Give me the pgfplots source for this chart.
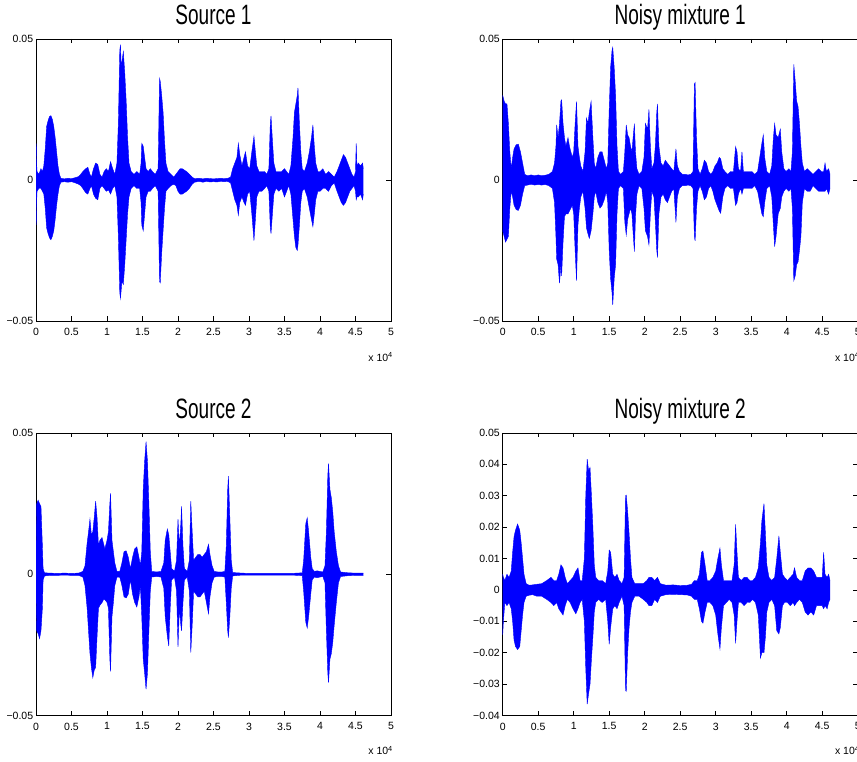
\documentclass[border=0pt]{standalone}
\usepackage{pgfplots}
\pgfplotsset{compat=1.18}
\usepackage{pgfplotstable}
\usepgfplotslibrary{fillbetween}
\usepackage{fontspec}
\setmainfont{Liberation Sans}
\newfontfamily\titlefont{Liberation Sans}[FakeStretch=0.68]

\pgfplotstableread{
x hi lo
0.000 0.013 -0.016
0.004 0.012 -0.015
0.008 0.006 -0.008
0.015 0.003 -0.004
0.04 0.002 -0.003
0.07 0.004 -0.003
0.09 0.003 -0.004
0.11 0.005 -0.005
0.13 0.011 -0.010
0.15 0.019 -0.017
0.17 0.021 -0.019
0.19 0.0225 -0.0205
0.21 0.0228 -0.0212
0.23 0.0215 -0.020
0.25 0.019 -0.018
0.27 0.015 -0.014
0.29 0.010 -0.009
0.31 0.005 -0.005
0.33 0.002 -0.002
0.35 0.0006 -0.0008
0.40 0.0004 -0.0006
0.45 0.0006 -0.0008
0.50 0.0005 -0.0006
0.55 0.0008 -0.0010
0.60 0.0012 -0.0015
0.63 0.002 -0.002
0.66 0.003 -0.003
0.70 0.004 -0.0045
0.73 0.0045 -0.0050
0.76 0.002 -0.003
0.78 0.001 -0.002
0.81 0.004 -0.005
0.84 0.006 -0.0065
0.87 0.0055 -0.007
0.90 0.002 -0.003
0.93 0.001 -0.002
0.96 0.003 -0.003
0.99 0.004 -0.004
1.02 0.003 -0.0035
1.05 0.0065 -0.005
1.08 0.004 -0.003
1.11 0.002 -0.002
1.14 0.006 -0.006
1.16 0.020 -0.020
1.18 0.046 -0.040
1.19 0.048 -0.042
1.20 0.040 -0.039
1.21 0.042 -0.036
1.23 0.0455 -0.037
1.25 0.038 -0.030
1.27 0.028 -0.021
1.29 0.015 -0.012
1.31 0.006 -0.006
1.34 0.003 -0.003
1.38 0.002 -0.002
1.42 0.003 -0.003
1.46 0.002 -0.003
1.48 0.006 -0.008
1.49 0.013 -0.016
1.51 0.012 -0.018
1.53 0.008 -0.012
1.55 0.004 -0.006
1.58 0.003 -0.004
1.61 0.004 -0.004
1.64 0.003 -0.003
1.68 0.002 -0.002
1.72 0.004 -0.004
1.74 0.036 -0.036
1.75 0.035 -0.0365
1.77 0.030 -0.026
1.79 0.024 -0.018
1.81 0.014 -0.010
1.83 0.006 -0.004
1.86 0.003 -0.003
1.90 0.002 -0.002
1.94 0.001 -0.0015
1.97 0.002 -0.002
2.00 0.003 -0.004
2.03 0.004 -0.005
2.06 0.004 -0.005
2.09 0.0035 -0.0045
2.12 0.003 -0.004
2.16 0.002 -0.003
2.20 0.001 -0.0015
2.23 0.0005 -0.0008
2.30 0.0006 -0.0005
2.35 0.0004 -0.0008
2.40 0.0006 -0.0005
2.45 0.0005 -0.0007
2.50 0.0004 -0.0006
2.55 0.0005 -0.0007
2.60 0.0006 -0.0005
2.65 0.0005 -0.0006
2.70 0.0006 -0.0005
2.74 0.001 -0.001
2.77 0.004 -0.004
2.80 0.006 -0.007
2.83 0.008 -0.009
2.85 0.013 -0.0125
2.87 0.009 -0.008
2.90 0.005 -0.006
2.93 0.008 -0.008
2.95 0.010 -0.009
2.98 0.005 -0.005
3.01 0.004 -0.004
3.04 0.010 -0.012
3.07 0.0155 -0.0215
3.09 0.010 -0.014
3.11 0.005 -0.006
3.14 0.003 -0.004
3.18 0.003 -0.004
3.22 0.003 -0.003
3.25 0.002 -0.002
3.28 0.004 -0.004
3.30 0.020 -0.017
3.31 0.0227 -0.019
3.33 0.014 -0.012
3.35 0.006 -0.005
3.38 0.003 -0.003
3.42 0.003 -0.004
3.46 0.003 -0.003
3.50 0.004 -0.006
3.53 0.003 -0.004
3.56 0.002 -0.002
3.59 0.005 -0.005
3.62 0.015 -0.014
3.64 0.024 -0.020
3.66 0.027 -0.024
3.68 0.030 -0.025
3.69 0.0327 -0.023
3.71 0.020 -0.016
3.73 0.010 -0.008
3.75 0.004 -0.004
3.78 0.003 -0.003
3.82 0.006 -0.006
3.85 0.010 -0.010
3.88 0.015 -0.014
3.90 0.0195 -0.0165
3.92 0.012 -0.012
3.94 0.006 -0.007
3.97 0.003 -0.004
4.00 0.003 -0.004
4.04 0.004 -0.003
4.08 0.002 -0.003
4.12 0.003 -0.004
4.16 0.002 -0.002
4.20 0.001 -0.001
4.24 0.003 -0.004
4.27 0.005 -0.006
4.30 0.007 -0.008
4.33 0.009 -0.009
4.36 0.008 -0.008
4.39 0.006 -0.006
4.42 0.004 -0.004
4.45 0.002 -0.003
4.48 0.001 -0.002
4.50 0.003 -0.004
4.51 0.013 -0.007
4.52 0.005 -0.006
4.54 0.006 -0.006
4.57 0.005 -0.005
4.60 0.006 -0.007
4.61 0.004 -0.005
}\dataA

\pgfplotstableread{
x hi lo
0.000 0.030 -0.018
0.02 0.028 -0.020
0.04 0.027 -0.022
0.06 0.027 -0.021
0.08 0.020 -0.020
0.10 0.010 -0.010
0.12 0.004 -0.004
0.14 0.008 -0.006
0.16 0.011 -0.009
0.19 0.0125 -0.0105
0.22 0.0127 -0.0108
0.25 0.010 -0.009
0.28 0.006 -0.005
0.31 0.002 -0.002
0.35 0.0015 -0.0018
0.40 0.0018 -0.0015
0.45 0.0015 -0.0018
0.50 0.0018 -0.0016
0.55 0.0015 -0.0018
0.60 0.0017 -0.0016
0.65 0.002 -0.002
0.70 0.003 -0.003
0.73 0.006 -0.008
0.75 0.012 -0.020
0.76 0.0195 -0.028
0.78 0.015 -0.030
0.80 0.020 -0.0366
0.82 0.028 -0.030
0.83 0.0284 -0.034
0.85 0.020 -0.022
0.87 0.015 -0.013
0.89 0.012 -0.012
0.92 0.015 -0.012
0.94 0.012 -0.011
0.96 0.010 -0.010
0.98 0.008 -0.009
1.00 0.010 -0.012
1.02 0.020 -0.025
1.04 0.0278 -0.0357
1.06 0.012 -0.016
1.08 0.008 -0.010
1.10 0.005 -0.006
1.13 0.003 -0.004
1.16 0.010 -0.010
1.18 0.022 -0.017
1.20 0.020 -0.019
1.22 0.024 -0.0207
1.245 0.0278 -0.018
1.27 0.015 -0.012
1.29 0.006 -0.006
1.31 0.004 -0.004
1.34 0.008 -0.008
1.37 0.010 -0.010
1.40 0.010 -0.009
1.43 0.007 -0.007
1.46 0.004 -0.004
1.48 0.006 -0.008
1.50 0.025 -0.025
1.52 0.040 -0.035
1.54 0.046 -0.040
1.55 0.047 -0.0443
1.57 0.040 -0.035
1.59 0.030 -0.030
1.61 0.012 -0.012
1.63 0.003 -0.003
1.66 0.002 -0.002
1.70 0.003 -0.003
1.72 0.010 -0.015
1.74 0.0195 -0.0195
1.76 0.016 -0.014
1.78 0.015 -0.012
1.80 0.012 -0.010
1.82 0.010 -0.012
1.84 0.016 -0.020
1.855 0.020 -0.0254
1.87 0.010 -0.013
1.89 0.004 -0.005
1.92 0.002 -0.002
1.96 0.003 -0.003
1.99 0.008 -0.010
2.01 0.020 -0.018
2.04 0.018 -0.020
2.06 0.025 -0.023
2.08 0.012 -0.012
2.10 0.004 -0.004
2.13 0.006 -0.006
2.15 0.012 -0.015
2.17 0.024 -0.025
2.18 0.027 -0.0275
2.20 0.012 -0.012
2.23 0.006 -0.006
2.26 0.005 -0.005
2.29 0.007 -0.007
2.32 0.006 -0.008
2.35 0.005 -0.006
2.38 0.004 -0.004
2.41 0.003 -0.003
2.44 0.011 -0.015
2.46 0.005 -0.006
2.49 0.003 -0.003
2.53 0.002 -0.002
2.57 0.002 -0.002
2.61 0.0018 -0.0018
2.65 0.002 -0.002
2.68 0.003 -0.003
2.70 0.034 -0.020
2.71 0.0345 -0.0216
2.73 0.015 -0.010
2.75 0.004 -0.004
2.78 0.002 -0.002
2.81 0.004 -0.004
2.84 0.007 -0.007
2.87 0.006 -0.006
2.90 0.003 -0.003
2.93 0.002 -0.002
2.96 0.003 -0.004
2.99 0.005 -0.007
3.02 0.006 -0.009
3.05 0.008 -0.011
3.07 0.0075 -0.0118
3.10 0.004 -0.006
3.13 0.003 -0.003
3.17 0.002 -0.002
3.21 0.003 -0.003
3.25 0.003 -0.003
3.28 0.0118 -0.009
3.30 0.010 -0.008
3.32 0.004 -0.005
3.35 0.003 -0.003
3.37 0.010 -0.005
3.39 0.003 -0.003
3.43 0.003 -0.003
3.47 0.003 -0.003
3.51 0.003 -0.003
3.55 0.002 -0.002
3.59 0.003 -0.004
3.62 0.008 -0.008
3.65 0.013 -0.012
3.67 0.016 -0.013
3.69 0.008 -0.008
3.72 0.003 -0.003
3.76 0.002 -0.002
3.79 0.005 -0.006
3.81 0.014 -0.015
3.83 0.020 -0.0236
3.85 0.016 -0.020
3.88 0.015 -0.012
3.91 0.018 -0.010
3.93 0.010 -0.006
3.96 0.004 -0.004
3.99 0.003 -0.003
4.03 0.004 -0.004
4.06 0.003 -0.003
4.08 0.010 -0.010
4.10 0.041 -0.0357
4.12 0.035 -0.034
4.14 0.028 -0.030
4.16 0.026 -0.029
4.18 0.020 -0.025
4.20 0.012 -0.020
4.22 0.006 -0.008
4.25 0.003 -0.003
4.29 0.004 -0.004
4.33 0.003 -0.004
4.37 0.002 -0.002
4.41 0.003 -0.003
4.45 0.004 -0.004
4.49 0.003 -0.004
4.52 0.003 -0.004
4.54 0.006 -0.004
4.56 0.003 -0.003
4.59 0.004 -0.005
4.61 0.002 -0.003
}\dataB

\pgfplotstableread{
x hi lo
0.000 0.005 -0.005
0.01 0.025 -0.020
0.03 0.0262 -0.021
0.05 0.025 -0.0228
0.07 0.024 -0.020
0.09 0.010 -0.012
0.10 0.002 -0.002
0.12 0.0005 -0.0006
0.20 0.0004 -0.0004
0.30 0.0003 -0.0004
0.40 0.0004 -0.0003
0.50 0.0003 -0.0004
0.60 0.0004 -0.0004
0.66 0.001 -0.001
0.69 0.003 -0.004
0.72 0.011 -0.012
0.74 0.015 -0.020
0.76 0.0195 -0.028
0.78 0.014 -0.033
0.80 0.015 -0.0366
0.82 0.020 -0.034
0.84 0.0259 -0.033
0.86 0.020 -0.022
0.88 0.010 -0.012
0.90 0.012 -0.011
0.93 0.013 -0.010
0.95 0.011 -0.009
0.97 0.009 -0.009
1.00 0.012 -0.010
1.02 0.015 -0.012
1.04 0.025 -0.030
1.05 0.0286 -0.0344
1.07 0.012 -0.015
1.09 0.008 -0.010
1.11 0.004 -0.004
1.14 0.001 -0.001
1.18 0.001 -0.001
1.21 0.004 -0.004
1.24 0.008 -0.008
1.27 0.0083 -0.0084
1.30 0.006 -0.007
1.33 0.002 -0.002
1.36 0.006 -0.007
1.39 0.009 -0.010
1.42 0.0097 -0.0116
1.45 0.006 -0.008
1.47 0.003 -0.004
1.49 0.008 -0.015
1.51 0.030 -0.030
1.53 0.040 -0.035
1.55 0.0469 -0.0407
1.57 0.040 -0.035
1.59 0.025 -0.020
1.61 0.008 -0.006
1.63 0.001 -0.001
1.70 0.0008 -0.0008
1.76 0.001 -0.001
1.80 0.004 -0.005
1.82 0.012 -0.015
1.85 0.016 -0.022
1.87 0.014 -0.0254
1.89 0.008 -0.012
1.91 0.002 -0.002
1.95 0.001 -0.001
1.98 0.005 -0.006
2.00 0.0195 -0.0257
2.02 0.010 -0.012
2.04 0.018 -0.018
2.05 0.024 -0.020
2.07 0.010 -0.010
2.09 0.002 -0.002
2.13 0.001 -0.001
2.16 0.005 -0.006
2.18 0.0259 -0.0277
2.20 0.015 -0.018
2.22 0.005 -0.006
2.25 0.006 -0.007
2.28 0.007 -0.008
2.31 0.007 -0.008
2.34 0.006 -0.007
2.37 0.007 -0.006
2.40 0.008 -0.010
2.43 0.0106 -0.014
2.45 0.007 -0.008
2.48 0.003 -0.003
2.51 0.001 -0.001
2.56 0.0008 -0.0008
2.62 0.0008 -0.0008
2.66 0.001 -0.001
2.68 0.010 -0.010
2.70 0.030 -0.020
2.71 0.0347 -0.0224
2.73 0.020 -0.015
2.75 0.005 -0.005
2.77 0.0006 -0.0006
2.90 0.0004 -0.0003
3.00 0.0003 -0.0003
3.20 0.0003 -0.0003
3.40 0.0003 -0.0003
3.60 0.0003 -0.0003
3.75 0.0005 -0.0005
3.77 0.005 -0.006
3.80 0.018 -0.017
3.82 0.020 -0.019
3.84 0.015 -0.015
3.87 0.006 -0.007
3.89 0.002 -0.002
3.92 0.001 -0.001
3.96 0.0012 -0.0012
4.00 0.001 -0.001
4.04 0.0008 -0.0008
4.07 0.003 -0.003
4.09 0.015 -0.020
4.11 0.035 -0.035
4.12 0.0392 -0.0384
4.14 0.030 -0.030
4.16 0.027 -0.028
4.18 0.022 -0.024
4.20 0.015 -0.018
4.23 0.008 -0.010
4.26 0.003 -0.003
4.29 0.0008 -0.0008
4.40 0.0005 -0.0005
4.50 0.0004 -0.0004
4.61 0.0004 -0.0004
}\dataC

\pgfplotstableread{
x hi lo
0.000 0.005 -0.0143
0.01 0.004 -0.010
0.03 0.003 -0.004
0.06 0.005 -0.005
0.09 0.004 -0.004
0.12 0.006 -0.006
0.14 0.012 -0.010
0.16 0.017 -0.016
0.18 0.019 -0.018
0.21 0.021 -0.019
0.24 0.019 -0.018
0.26 0.015 -0.013
0.28 0.010 -0.008
0.30 0.005 -0.004
0.33 0.002 -0.002
0.37 0.0015 -0.0017
0.42 0.0016 -0.0015
0.48 0.0018 -0.0020
0.55 0.002 -0.002
0.62 0.003 -0.003
0.68 0.004 -0.004
0.72 0.003 -0.005
0.76 0.003 -0.004
0.79 0.005 -0.006
0.82 0.008 -0.007
0.85 0.007 -0.008
0.88 0.004 -0.005
0.91 0.002 -0.003
0.95 0.003 -0.004
0.99 0.004 -0.006
1.03 0.006 -0.0076
1.06 0.007 -0.006
1.09 0.003 -0.004
1.12 0.003 -0.003
1.15 0.010 -0.010
1.17 0.030 -0.025
1.19 0.0417 -0.0364
1.21 0.038 -0.033
1.23 0.039 -0.030
1.25 0.030 -0.022
1.27 0.020 -0.015
1.29 0.008 -0.007
1.31 0.004 -0.004
1.35 0.003 -0.003
1.40 0.003 -0.004
1.45 0.002 -0.003
1.48 0.006 -0.010
1.50 0.0127 -0.0173
1.52 0.012 -0.012
1.55 0.005 -0.006
1.58 0.004 -0.005
1.61 0.005 -0.006
1.64 0.003 -0.004
1.68 0.002 -0.002
1.71 0.004 -0.005
1.73 0.030 -0.032
1.74 0.0302 -0.0323
1.76 0.025 -0.020
1.78 0.018 -0.012
1.80 0.010 -0.007
1.82 0.004 -0.004
1.86 0.002 -0.002
1.92 0.002 -0.002
1.98 0.002 -0.003
2.03 0.003 -0.004
2.06 0.004 -0.005
2.10 0.004 -0.005
2.14 0.003 -0.003
2.18 0.004 -0.004
2.22 0.002 -0.002
2.30 0.0015 -0.0015
2.40 0.0016 -0.0014
2.50 0.0014 -0.0015
2.60 0.0015 -0.0016
2.66 0.0018 -0.002
2.70 0.003 -0.003
2.74 0.003 -0.003
2.77 0.005 -0.006
2.80 0.012 -0.010
2.82 0.0124 -0.0106
2.85 0.008 -0.007
2.88 0.003 -0.004
2.92 0.003 -0.004
2.96 0.004 -0.005
3.00 0.006 -0.008
3.03 0.010 -0.014
3.06 0.0133 -0.0188
3.08 0.008 -0.012
3.11 0.003 -0.005
3.15 0.003 -0.004
3.19 0.003 -0.003
3.23 0.003 -0.004
3.26 0.008 -0.008
3.28 0.0209 -0.017
3.30 0.012 -0.010
3.32 0.004 -0.004
3.36 0.003 -0.004
3.40 0.004 -0.005
3.44 0.004 -0.004
3.48 0.003 -0.004
3.52 0.003 -0.003
3.56 0.004 -0.004
3.60 0.007 -0.008
3.63 0.015 -0.0217
3.65 0.022 -0.020
3.68 0.0275 -0.020
3.70 0.018 -0.015
3.72 0.008 -0.007
3.75 0.004 -0.004
3.79 0.003 -0.003
3.83 0.004 -0.005
3.86 0.010 -0.013
3.89 0.0172 -0.014
3.91 0.012 -0.012
3.94 0.005 -0.005
3.97 0.004 -0.004
4.01 0.003 -0.004
4.05 0.004 -0.005
4.09 0.005 -0.004
4.11 0.007 -0.005
4.14 0.004 -0.004
4.18 0.003 -0.003
4.22 0.003 -0.004
4.26 0.006 -0.007
4.30 0.007 -0.008
4.34 0.007 -0.007
4.38 0.006 -0.008
4.42 0.004 -0.005
4.46 0.004 -0.005
4.50 0.004 -0.005
4.52 0.012 -0.006
4.54 0.005 -0.005
4.57 0.004 -0.006
4.59 0.005 -0.004
4.61 0.003 -0.003
}\dataD

\pgfplotsset{
  wave/.style={
    scale only axis, width=355pt, height=282pt, anchor=south west,
    xmin=0, xmax=5,
    scaled x ticks=false, scaled y ticks=false,
    xtick={0,0.5,1,1.5,2,2.5,3,3.5,4,4.5,5},
    xticklabels={0,0.5,1,1.5,2,2.5,3,3.5,4,4.5,5},
    tick align=inside, major tick length=4.5pt,
    major tick style={black, line width=0.6pt},
    axis line style={black, line width=0.75pt},
    tick label style={font=\fontsize{10.5}{12}\selectfont, black},
    xticklabel style={anchor=north, inner sep=0pt, yshift=-7pt},
    yticklabel style={anchor=east, inner sep=0pt, xshift=-2.7pt},
    title style={font=\titlefont\fontsize{28}{30}\selectfont, at={(0.5,1)}, anchor=base, yshift=8pt, inner sep=0pt},
  },
  y5/.style={ymin=-0.05, ymax=0.05, ytick={-0.05,0,0.05}, yticklabels={−0.05,0,0.05}},
}

\begin{document}
\begin{tikzpicture}[x=1pt,y=1pt]

\begin{axis}[wave, y5, at={(36pt,441pt)}, title={Source 1}]
\addplot[name path=ahi, draw=blue, line width=0.4pt] table[x=x,y=hi]{\dataA};
\addplot[name path=alo, draw=blue, line width=0.4pt] table[x=x,y=lo]{\dataA};
\addplot[blue, draw=none] fill between[of=ahi and alo];
\end{axis}

\begin{axis}[wave, y5, at={(502.7pt,441pt)}, title={Noisy mixture 1}]
\addplot[name path=bhi, draw=blue, line width=0.4pt] table[x=x,y=hi]{\dataB};
\addplot[name path=blo, draw=blue, line width=0.4pt] table[x=x,y=lo]{\dataB};
\addplot[blue, draw=none] fill between[of=bhi and blo];
\end{axis}

\begin{axis}[wave, y5, height=282.5pt, at={(36pt,46.5pt)}, title={Source 2}]
\addplot[name path=chi, draw=blue, line width=0.4pt] table[x=x,y=hi]{\dataC};
\addplot[name path=clo, draw=blue, line width=0.4pt] table[x=x,y=lo]{\dataC};
\addplot[blue, draw=none] fill between[of=chi and clo];
\end{axis}

\begin{axis}[wave, height=282.5pt, at={(502.7pt,46.5pt)}, title={Noisy mixture 2},
  ymin=-0.04, ymax=0.05, ytick={-0.04,-0.03,-0.02,-0.01,0,0.01,0.02,0.03,0.04,0.05},
  yticklabels={−0.04,−0.03,−0.02,−0.01,0,0.01,0.02,0.03,0.04,0.05}]
\addplot[name path=dhi, draw=blue, line width=0.4pt] table[x=x,y=hi]{\dataD};
\addplot[name path=dlo, draw=blue, line width=0.4pt] table[x=x,y=lo]{\dataD};
\addplot[blue, draw=none] fill between[of=dhi and dlo];
\end{axis}

\node[anchor=base east, inner sep=0pt, font=\fontsize{10.5}{12}\selectfont] at (393,400.5) {x 10\textsuperscript{4}};
\node[anchor=base east, inner sep=0pt, font=\fontsize{10.5}{12}\selectfont] at (859.7,400.5) {x 10\textsuperscript{4}};
\node[anchor=base east, inner sep=0pt, font=\fontsize{10.5}{12}\selectfont] at (393,7) {x 10\textsuperscript{4}};
\node[anchor=base east, inner sep=0pt, font=\fontsize{10.5}{12}\selectfont] at (859.7,7) {x 10\textsuperscript{4}};

\pgfresetboundingbox
\path[use as bounding box] (0,0) rectangle (857,762);
\end{tikzpicture}
\end{document}
